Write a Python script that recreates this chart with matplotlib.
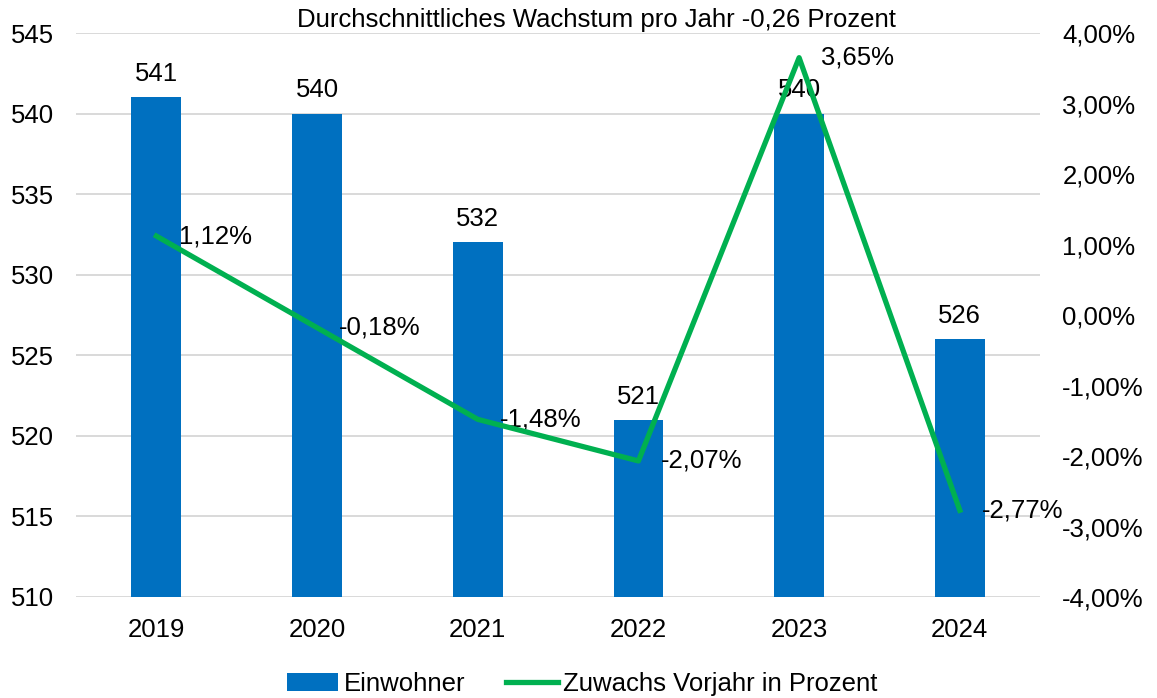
import matplotlib.pyplot as plt
import numpy as np

plt.rcParams['font.family'] = ['Liberation Sans', 'DejaVu Sans']

# Daten
jahre = ['2019', '2020', '2021', '2022', '2023', '2024']
einwohner = [541, 540, 532, 521, 540, 526]
zuwachs = [1.12, -0.18, -1.48, -2.07, 3.65, -2.77]

blau = '#0070C0'
gruen = '#00B050'
grid_farbe = '#D9D9D9'
fs = 18.5

fig = plt.figure(figsize=(11.57, 6.98), dpi=100)
ax = fig.add_axes([0.0657, 0.1447, 0.8333, 0.808])
ax2 = ax.twinx()

x = np.arange(len(jahre))
bars = ax.bar(x, einwohner, width=0.31, color=blau, label='Einwohner', zorder=2)
ax.set_ylim(510, 545)
ax.set_yticks(np.arange(510, 546, 5))
ax.set_xlim(-0.5, len(jahre) - 0.5)
ax.set_xticks(x)
ax.set_xticklabels(jahre)
ax.grid(axis='y', color=grid_farbe, linewidth=1.4, zorder=0)
ax.set_axisbelow(True)

for xi, v in zip(x, einwohner):
    ax.annotate(str(v), (xi, v), xytext=(0, 8), textcoords='offset points',
                ha='center', va='bottom', fontsize=fs, zorder=3)

line, = ax2.plot(x, zuwachs, color=gruen, linewidth=3.8,
                 label='Zuwachs Vorjahr in Prozent', zorder=4)
ax2.set_ylim(-4, 4)
ax2.set_yticks(np.arange(-4, 4.01, 1))
ax2.set_yticklabels([('%.2f%%' % t).replace('.', ',') for t in np.arange(-4, 4.01, 1)])

for xi, v in zip(x, zuwachs):
    ax2.annotate(('%.2f%%' % v).replace('.', ','), (xi, v), xytext=(16, 0),
                 textcoords='offset points', ha='left', va='center', fontsize=fs)

for a in (ax, ax2):
    for s in a.spines.values():
        s.set_visible(False)
    a.tick_params(length=0, labelsize=fs)
ax.tick_params(axis='x', pad=15)
ax.tick_params(axis='y', pad=16)
ax2.tick_params(axis='y', pad=16)

fig.text(596 / 1157, 1 - 20 / 698, 'Durchschnittliches Wachstum pro Jahr -0,26 Prozent',
         ha='center', va='center', fontsize=fs)

fig.legend(handles=[bars, line], loc='lower center', bbox_to_anchor=(582 / 1157, -0.03),
           ncol=2, frameon=False, fontsize=fs, handlelength=2.0, handletextpad=0.2,
           columnspacing=1.6)

fig.savefig('out.png', dpi=100)
